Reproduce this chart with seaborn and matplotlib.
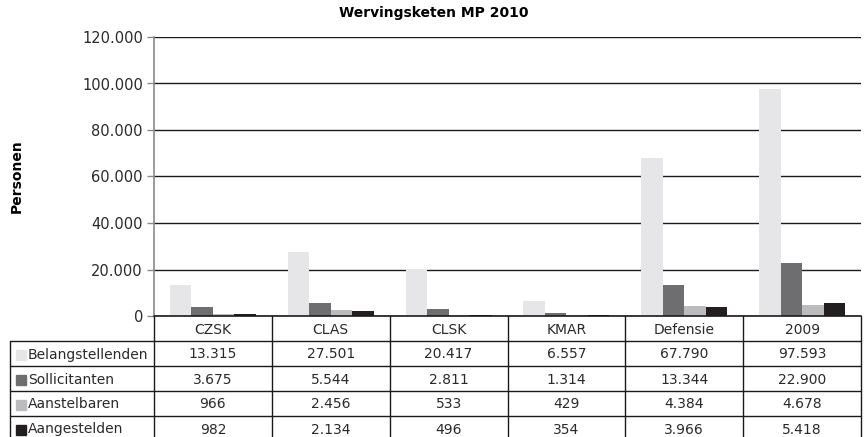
import matplotlib
matplotlib.use("Agg")
import matplotlib.pyplot as plt
from matplotlib.lines import Line2D
from matplotlib.patches import Rectangle
import seaborn as sns
import pandas as pd

categories = ["CZSK", "CLAS", "CLSK", "KMAR", "Defensie", "2009"]
series_names = ["Belangstellenden", "Sollicitanten", "Aanstelbaren", "Aangestelden"]
belangstellenden = [13315, 27501, 20417, 6557, 67790, 97593]
sollicitanten = [3675, 5544, 2811, 1314, 13344, 22900]
aanstelbaren = [966, 2456, 533, 429, 4384, 4678]
aangestelden = [982, 2134, 496, 354, 3966, 5418]
colors = ["#e6e6e8", "#6e6e70", "#bcbcbe", "#231f20"]
yticks = [0, 20000, 40000, 60000, 80000, 100000, 120000]

series_values = [belangstellenden, sollicitanten, aanstelbaren, aangestelden]

def fmt(v):
    return f"{v:,}".replace(",", ".")

rows = []
for name, vals in zip(series_names, series_values):
    for c, v in zip(categories, vals):
        rows.append({"cat": c, "serie": name, "val": v})
df = pd.DataFrame(rows)

sns.set_theme(style="white")
plt.rcParams["font.family"] = ["DejaVu Sans"]
TXT = "#2a2a2a"

W, H = 868, 437
fig = plt.figure(figsize=(W / 100, H / 100), dpi=100)
left, right, top, bottom = 154, 861, 37, 316
ax = fig.add_axes([left / W, 1 - bottom / H, (right - left) / W, (bottom - top) / H])

sns.barplot(data=df, x="cat", y="val", hue="serie", order=categories,
            hue_order=series_names, palette=colors, width=0.73,
            saturation=1, legend=False, ax=ax, linewidth=0)

ax.set_ylim(0, 120000)
ax.set_xlim(-0.5, len(categories) - 0.5)
ax.set_yticks(yticks)
ax.set_yticklabels([fmt(t) for t in yticks], fontsize=10.5, color=TXT)
ax.set_xticks([])
ax.set_xlabel("")
ax.set_ylabel("Personen", fontsize=10, fontweight="bold", color="black", labelpad=0)
ax.yaxis.set_label_coords((24 - left) / (right - left), 0.5)
ax.yaxis.grid(True, color="#1a1a1a", linewidth=1.0)
ax.set_axisbelow(True)
for s in ["top", "right", "bottom"]:
    ax.spines[s].set_visible(False)
ax.spines["left"].set_color("#8a8a8a")
ax.spines["left"].set_linewidth(1.2)
ax.tick_params(axis="y", which="major", left=True, length=5, width=1,
               color="#8a8a8a", pad=3)

fig.text(0.5, 1 - 13 / H, "Wervingsketen MP 2010", ha="center", va="center",
         fontsize=10, fontweight="bold", color="black")

# data table drawn below the axes
fig.canvas.draw()
def xpix(xdata):
    return ax.transData.transform((xdata, 0))[0]

col_edges = [xpix(i - 0.5) for i in range(len(categories) + 1)]
row_h = 25
header_top = bottom
header_bot = bottom + row_h
row_tops = [header_bot + k * row_h for k in range(len(series_names) + 1)]
lab_left = 10

def fx(px):
    return px / W
def fy(py):
    return 1 - py / H

lc = "#1a1a1a"
lw = 1.0
fig.add_artist(Line2D([fx(col_edges[0]), fx(col_edges[-1])], [fy(header_top)] * 2, color=lc, lw=1.2))
for y in row_tops:
    fig.add_artist(Line2D([fx(lab_left), fx(col_edges[-1])], [fy(y)] * 2, color=lc, lw=lw))
yb = row_tops[-1]
for x in col_edges:
    fig.add_artist(Line2D([fx(x)] * 2, [fy(header_top), fy(yb)], color=lc, lw=lw))
fig.add_artist(Line2D([fx(lab_left)] * 2, [fy(header_bot), fy(yb)], color=lc, lw=lw))

for i, c in enumerate(categories):
    xc = (col_edges[i] + col_edges[i + 1]) / 2
    fig.text(fx(xc), fy(header_top + row_h / 2 + 1), c, ha="center", va="center",
             fontsize=10, color=TXT)
for r, (name, vals, col) in enumerate(zip(series_names, series_values, colors)):
    yc = row_tops[r] + row_h / 2 + 1
    fig.add_artist(Rectangle((fx(16), fy(yc + 5)), 10 / W, 10 / H, color=col,
                             transform=fig.transFigure))
    fig.text(fx(28), fy(yc), name, ha="left", va="center", fontsize=10, color=TXT)
    for i, v in enumerate(vals):
        xc = (col_edges[i] + col_edges[i + 1]) / 2
        fig.text(fx(xc), fy(yc), fmt(v), ha="center", va="center", fontsize=10, color=TXT)

fig.savefig("out.png", dpi=100)
